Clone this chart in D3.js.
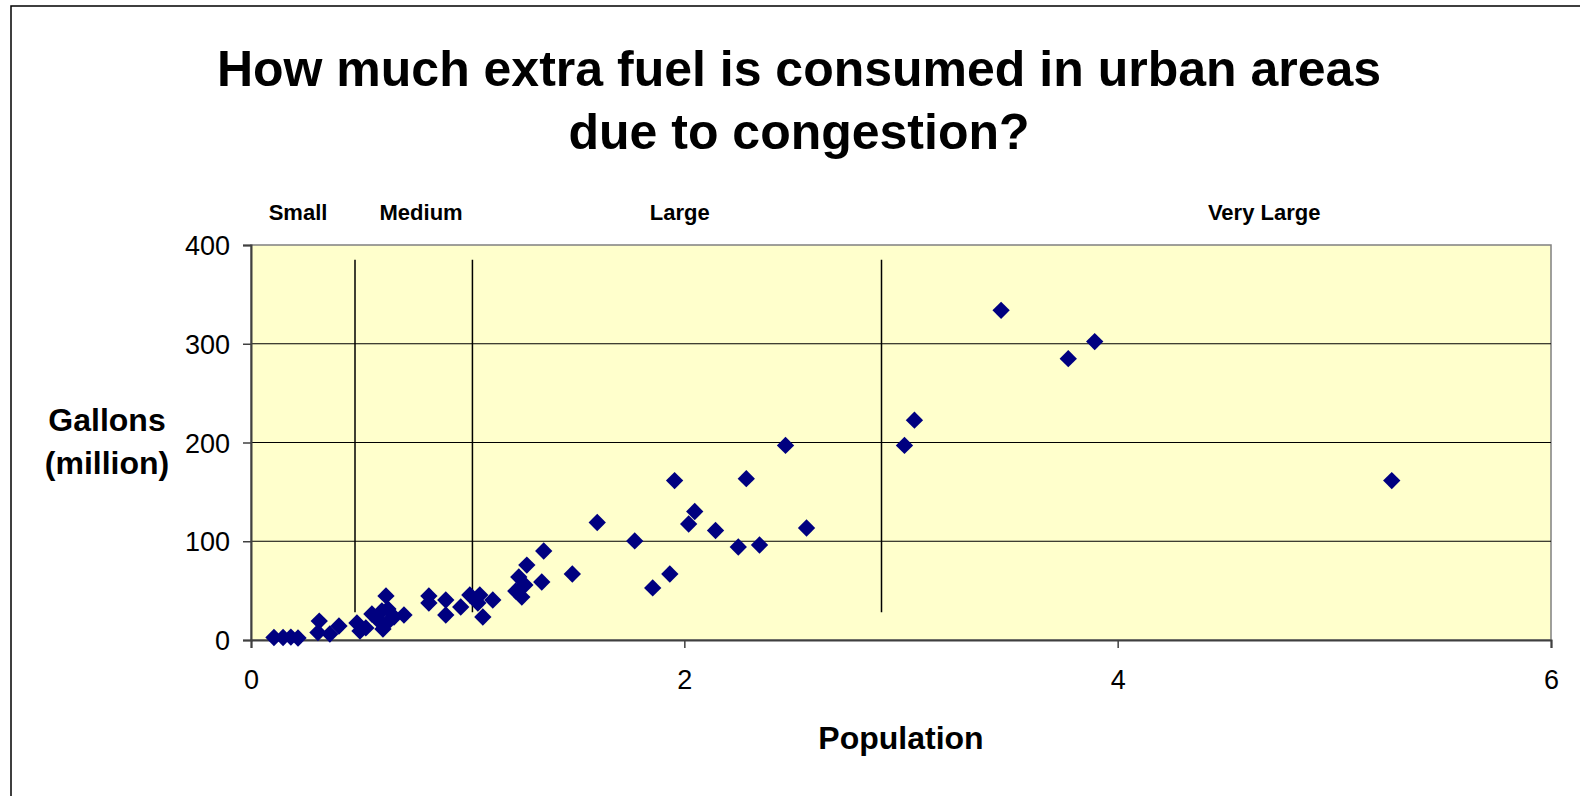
<!DOCTYPE html>
<html>
<head>
<meta charset="utf-8">
<script src="https://cdn.jsdelivr.net/npm/d3@7"></script>
<style>
    body { margin: 0; background: #ffffff; }
    svg text { font-family: "Liberation Sans", Arial, sans-serif; fill: #000000; }
</style>
</head>
<body>
<svg class="chart" width="1580" height="796"></svg>
<script>
// population (million) of each urban area
var population = [
    0.106, 0.148, 0.184, 0.217, 0.315, 0.309, 0.364, 0.406,
    0.489, 0.503, 0.530, 0.558, 0.586, 0.609, 0.604, 0.632, 0.623, 0.636, 0.660, 0.706,
    0.821, 0.821, 0.899, 0.899, 0.968, 1.010, 1.056, 1.047, 1.070, 1.116,
    1.222, 1.250, 1.236, 1.264, 1.273, 1.342, 1.351, 1.483, 1.598, 1.771,
    1.854, 1.933, 1.955, 2.048, 2.020, 2.144, 2.249, 2.347, 2.286, 2.467,
    2.564, 3.016, 3.062, 3.462, 3.772, 3.894, 5.265
];
// extra fuel, gallons (million)
var gallons = [
    2.5, 2.5, 3.0, 2.0, 19.2, 7.6, 6.1, 14.2,
    17.2, 9.1, 12.2, 26.3, 20.3, 11.1, 29.4, 31.4, 44.6, 19.2, 23.3, 25.3,
    44.6, 37.5, 40.5, 25.3, 33.4, 45.6, 45.6, 37.5, 23.3, 40.5,
    49.6, 43.5, 63.8, 55.7, 75.9, 58.7, 90.1, 66.8, 119.0, 100.3,
    52.7, 66.8, 161.4, 130.1, 117.5, 110.9, 94.2, 96.2, 163.4, 197.0,
    113.4, 197.0, 222.6, 333.8, 284.9, 302.2, 161.4
];

var xTicks = [0, 2, 4, 6];
var yTicks = [0, 100, 200, 300, 400];
var gridValues = [100, 200, 300];

var sizeClasses = ["Small", "Medium", "Large", "Very Large"];
var sizeLabelX = [0.217, 0.785, 1.979, 4.676];
var dividerX = [0.48, 1.022, 2.91];
var dividerSpan = [28, 385];

var titleLines = ["How much extra fuel is consumed in urban areas", "due to congestion?"];

var svg = d3.select("svg.chart");
var plot = { left: 251, right: 1551, top: 245, bottom: 640 };

var xScale = d3.scaleLinear().domain([0, 6]).range([plot.left, plot.right]);
var yScale = d3.scaleLinear().domain([0, 400]).range([plot.bottom, plot.top]);

// outer chart border (only top and left are inside the picture)
svg.append("path")
    .attr("d", "M11,800 L11,6 L1590,6")
    .attr("fill", "none")
    .attr("stroke", "#000000")
    .attr("stroke-width", 1.5);

// title
svg.append("g").selectAll("text")
    .data(titleLines)
    .enter().append("text")
    .attr("x", 799)
    .attr("y", function (d, i) { return 86 + i * 63; })
    .attr("text-anchor", "middle")
    .attr("font-size", 50)
    .attr("font-weight", "bold")
    .text(function (d) { return d; });

// plot area
svg.append("rect")
    .attr("x", plot.left)
    .attr("y", plot.top)
    .attr("width", plot.right - plot.left)
    .attr("height", plot.bottom - plot.top)
    .attr("fill", "#ffffcc")
    .attr("stroke", "#808080")
    .attr("stroke-width", 1.5);

svg.append("g").selectAll("line")
    .data(gridValues)
    .enter().append("line")
    .attr("x1", plot.left)
    .attr("x2", plot.right)
    .attr("y1", function (d) { return yScale(d); })
    .attr("y2", function (d) { return yScale(d); })
    .attr("stroke", "#000000")
    .attr("stroke-width", 1);

// axes
var yAxis = d3.axisLeft(yScale)
    .tickValues(yTicks)
    .tickSize(8)
    .tickPadding(13)
    .tickFormat(d3.format("d"));
var yAxisGroup = svg.append("g")
    .attr("transform", "translate(" + plot.left + ",0)")
    .call(yAxis);

var xAxis = d3.axisBottom(xScale)
    .tickValues(xTicks)
    .tickSize(8)
    .tickPadding(22)
    .tickFormat(d3.format("d"));
var xAxisGroup = svg.append("g")
    .attr("transform", "translate(0," + plot.bottom + ")")
    .call(xAxis);

[yAxisGroup, xAxisGroup].forEach(function (g) {
    g.select(".domain").attr("stroke", "#404040").attr("stroke-width", 2);
    g.selectAll(".tick line").attr("stroke", "#404040").attr("stroke-width", 1.5);
    g.selectAll(".tick text")
        .attr("font-family", "Liberation Sans, Arial, sans-serif")
        .attr("font-size", 27)
        .attr("fill", "#000000");
});
yAxisGroup.selectAll(".tick text").attr("dy", "0.36em");

// axis titles
svg.append("text")
    .attr("x", 107)
    .attr("y", 431)
    .attr("text-anchor", "middle")
    .attr("font-size", 32)
    .attr("font-weight", "bold")
    .text("Gallons");
svg.append("text")
    .attr("x", 107)
    .attr("y", 474)
    .attr("text-anchor", "middle")
    .attr("font-size", 32)
    .attr("font-weight", "bold")
    .text("(million)");
svg.append("text")
    .attr("x", 901)
    .attr("y", 749)
    .attr("text-anchor", "middle")
    .attr("font-size", 32)
    .attr("font-weight", "bold")
    .text("Population");

// size class dividers and labels
svg.append("g").selectAll("line")
    .data(dividerX)
    .enter().append("line")
    .attr("x1", function (d) { return xScale(d); })
    .attr("x2", function (d) { return xScale(d); })
    .attr("y1", yScale(dividerSpan[0]))
    .attr("y2", yScale(dividerSpan[1]))
    .attr("stroke", "#000000")
    .attr("stroke-width", 1.5);

svg.append("g").selectAll("text")
    .data(sizeClasses)
    .enter().append("text")
    .attr("x", function (d, i) { return xScale(sizeLabelX[i]); })
    .attr("y", 220)
    .attr("text-anchor", "middle")
    .attr("font-size", 22)
    .attr("font-weight", "bold")
    .text(function (d) { return d; });

// points
var diamond = d3.symbol().type(d3.symbolSquare).size(150);
svg.append("g").selectAll("path")
    .data(d3.range(population.length))
    .enter().append("path")
    .attr("d", diamond)
    .attr("transform", function (i) {
        return "translate(" + xScale(population[i]) + "," + yScale(gallons[i]) + ") rotate(45)";
    })
    .attr("fill", "#000080");
</script>
</body>
</html>
